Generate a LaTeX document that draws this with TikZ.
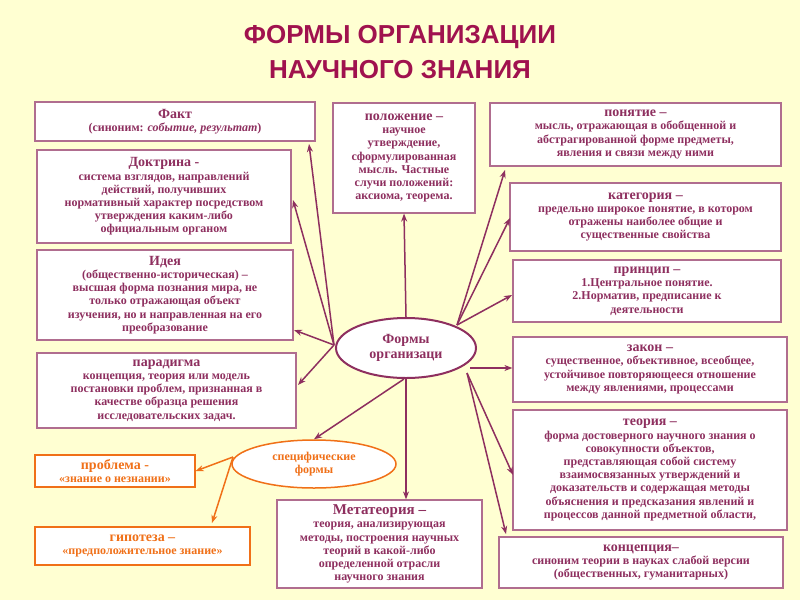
\documentclass[tikz,border=0pt]{standalone}
\usepackage{fontspec}
\setmainfont{Liberation Serif}
\newfontfamily\titlefont{Liberation Sans}
\usetikzlibrary{shapes.geometric,arrows.meta}
\definecolor{bg}{HTML}{FFFFD2}
\definecolor{pur}{HTML}{8E2F5F}
\definecolor{ttl}{HTML}{A0124E}
\definecolor{org}{HTML}{F07018}
\begin{document}
\begin{tikzpicture}[x=1pt,y=-1pt,
  box/.style={draw=pur!70,line width=1.2pt,fill=white,inner sep=1pt,align=center,text=pur,font=\bfseries\fontsize{12}{13.2}\selectfont},
  obox/.style={box,draw=org,text=org},
  hd/.style={font=\bfseries\fontsize{14}{15}\selectfont},
  arr/.style={draw=pur,line width=1.5pt,-{Stealth[length=8pt]}},
  oarr/.style={draw=org,line width=1.5pt,-{Stealth[length=8pt]}}]
\fill[bg] (0,0) rectangle (800,600);
\useasboundingbox (0,0) rectangle (800,600);
\node[text=ttl,font=\titlefont\bfseries\fontsize{26}{35}\selectfont,align=center] (t) at (400,52) {ФОРМЫ ОРГАНИЗАЦИИ\\НАУЧНОГО ЗНАНИЯ};
% boxes
\node[box,minimum width=280,minimum height=39] (fakt) at (175,121.5) {{\fontsize{14}{15}\selectfont Факт}\\(синоним: \textit{событие, результат})};
\node[box,minimum width=254,minimum height=93] (dok) at (164,196.5) {{\fontsize{14}{15}\selectfont Доктрина -}\\система взглядов, направлений\\действий, получивших\\нормативный характер посредством\\утверждения каким-либо\\официальным органом};
\node[box,minimum width=256,minimum height=90] (idea) at (165,295) {{\fontsize{14}{15}\selectfont Идея}\\(общественно-историческая) –\\высшая форма познания мира, не\\только отражающая объект\\изучения, но и направленная на его\\преобразование};
\node[box,minimum width=259,minimum height=75] (par) at (166.5,390.5) {{\fontsize{14}{15}\selectfont парадигма}\\концепция, теория или модель\\постановки проблем, признанная в\\качестве образца решения\\исследовательских задач.};
\node[obox,minimum width=160,minimum height=32] (prob) at (115,471) {{\fontsize{14}{15}\selectfont проблема -}\\«знание о незнании»};
\node[obox,minimum width=215,minimum height=38] (gip) at (142.5,546) {{\fontsize{14}{15}\selectfont гипотеза –}\\«предположительное знание»};
\node[box,minimum width=142,minimum height=110] (pol) at (404,158) {{\fontsize{14}{15}\selectfont положение –}\\научное\\утверждение,\\сформулированная\\мысль. Частные\\случи положений:\\аксиома, теорема.};
\node[box,minimum width=291,minimum height=63] (pon) at (635.5,134.5) {{\fontsize{14}{15}\selectfont понятие –}\\мысль, отражающая в обобщенной и\\абстрагированной форме предметы,\\явления и связи между ними};
\node[box,minimum width=271,minimum height=68] (kat) at (645.5,217) {{\fontsize{14}{15}\selectfont категория –}\\предельно широкое понятие, в котором\\отражены наиболее общие и\\существенные свойства};
\node[box,minimum width=268,minimum height=62] (pri) at (647,291) {{\fontsize{14}{15}\selectfont принцип –}\\1.Центральное понятие.\\2.Норматив, предписание к\\деятельности};
\node[box,minimum width=274,minimum height=65] (zak) at (650,369.5) {{\fontsize{14}{15}\selectfont закон –}\\существенное, объективное, всеобщее,\\устойчивое повторяющееся отношение\\между явлениями, процессами};
\node[box,minimum width=274,minimum height=120] (teo) at (650,470) {{\fontsize{14}{15}\selectfont теория –}\\форма достоверного научного знания о\\совокупности объектов,\\представляющая собой систему\\взаимосвязанных утверждений и\\доказательств и содержащая методы\\объяснения и предсказания явлений и\\процессов данной предметной области,};
\node[box,minimum width=284,minimum height=51] (kon) at (641,562.5) {{\fontsize{14}{15}\selectfont концепция–}\\синоним теории в науках слабой версии\\(общественных, гуманитарных)};
\node[box,minimum width=205,minimum height=88] (meta) at (379.5,544) {{\fontsize{15}{16}\selectfont Метатеория –}\\теория, анализирующая\\методы, построения научных\\теорий в какой-либо\\определенной отрасли\\научного знания};
% ellipses
\node[ellipse,draw=pur,line width=2pt,fill=white,minimum width=140,minimum height=60,inner sep=0pt,text=pur,align=center,font=\bfseries\fontsize{14}{15}\selectfont] (c) at (406,348) {Формы\\организаци};
\node[ellipse,draw=org,line width=1.5pt,fill=white,minimum width=164,minimum height=48,inner sep=0pt,text=org,align=center,font=\bfseries\fontsize{12}{13}\selectfont] (s) at (314,464) {специфические\\формы};
% coordinates
\coordinate (L) at (334,345);
\coordinate (R1) at (457,325);
\coordinate (R2) at (470,368);
\coordinate (R3) at (467,373);
\coordinate (SL) at (233,457);
\draw[arr] (L) -- (309,144);
\draw[arr] (L) -- (293,200);
\draw[arr] (L) -- (294,330);
\draw[arr] (L) -- (298,385);
\draw[arr] (c.north) -- (pol.south);
\draw[arr] (R1) -- (505,170);
\draw[arr] (R1) -- (510,218);
\draw[arr] (R1) -- (512,295);
\draw[arr] (R2) -- (zak.west |- R2);
\draw[arr] (R3) -- (513,475);
\draw[arr] (R3) -- (506,534);
\draw[arr] (c.south) -- (meta.north -| c.south);
\draw[arr] (404,379) -- (s.north);
\draw[oarr] (SL) -- (prob.east);
\draw[oarr] (SL) -- (212,523);
\end{tikzpicture}
\end{document}
